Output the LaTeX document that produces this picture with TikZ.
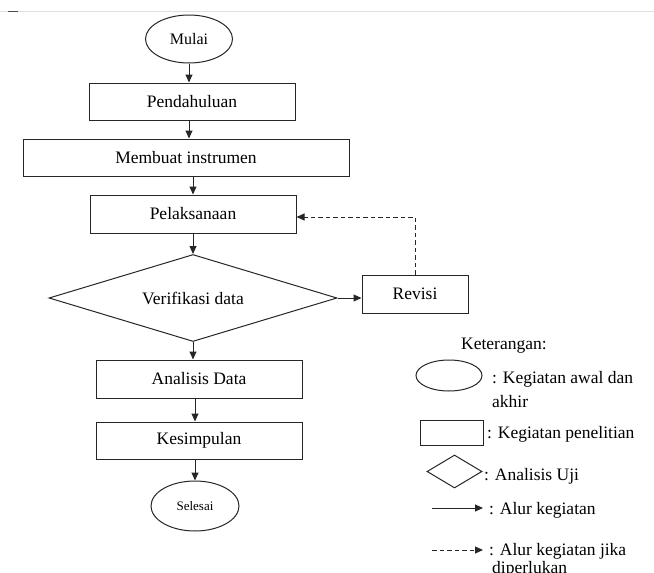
\documentclass[tikz,border=0pt]{standalone}
\usepackage{fontspec}
\setmainfont{Liberation Serif}
\usetikzlibrary{shapes.geometric,arrows.meta}
\begin{document}
\begin{tikzpicture}[x=1pt,y=-1pt,
  line/.style={draw=black!85, line width=1pt},
  flowbox/.style={line, rectangle, inner sep=0pt, font=\fontsize{17.5}{20}\selectfont},
  term/.style={line, ellipse, inner sep=0pt},
  test/.style={line, diamond, inner sep=0pt, shape aspect=3.3, font=\fontsize{17.5}{20}\selectfont},
  arr/.style={line, -{Triangle[length=8pt,width=7pt]}},
  darr/.style={arr, dash pattern=on 4.5pt off 3pt},
  legtext/.style={anchor=base west, inner sep=0pt, font=\fontsize{17.5}{20}\selectfont}]
\useasboundingbox (0,0) rectangle (654,573);
% page edge artefact
\draw[black!12, line width=1pt] (0,11) -- (654,11);
\draw[black!70, line width=1pt] (8,11) -- (18,11);
% flowchart
\node[term, minimum width=87pt, minimum height=48pt, font=\fontsize{16}{19}\selectfont] (mulai) at (189,39) {Mulai};
\node[flowbox, minimum width=206pt, minimum height=37pt] (pend) at (192,101.5) {Pendahuluan};
\node[flowbox, minimum width=326pt, minimum height=37pt] (mem) at (186,157.5) {Membuat instrumen};
\node[flowbox, minimum width=206pt, minimum height=38pt] (pel) at (193,214) {Pelaksanaan};
\node[test, minimum width=288pt, minimum height=87pt] (ver) at (193,298) {Verifikasi data};
\node[flowbox, minimum width=106pt, minimum height=38pt] (rev) at (415,294) {Revisi};
\node[flowbox, minimum width=206pt, minimum height=38pt] (ana) at (199,379) {Analisis Data};
\node[flowbox, minimum width=206pt, minimum height=37pt] (kes) at (199,440.5) {Kesimpulan};
\node[term, minimum width=88pt, minimum height=50pt, font=\fontsize{13}{16}\selectfont] (sel) at (195,506) {Selesai};
\draw[arr] (mulai.south) -- (mulai.south |- pend.north);
\draw[arr] (pend.south -| mulai.south) -- (mem.north -| mulai.south);
\draw[arr] (mem.south -| pel.north) -- (pel.north);
\draw[arr] (pel.south) -- (ver.north);
\draw[arr] (ver.south) -- (ver.south |- ana.north);
\draw[arr] (ana.south -| sel.north) -- (kes.north -| sel.north);
\draw[arr] (kes.south -| sel.north) -- (sel.north);
\draw[arr] (ver.east) -- (ver.east -| rev.west);
\draw[darr] (rev.north) |- ([yshift=-3pt]pel.east);
% legend
\node[legtext] (ket) at (461,349) {Keterangan:};
\node[term, minimum width=66pt, minimum height=31pt] (lell) at (449,375.5) {};
\node[legtext] (l1) at (492,383) {: Kegiatan awal dan};
\node[legtext] (l1b) at (492,407) {akhir};
\node[line, rectangle, inner sep=0pt, minimum width=63pt, minimum height=25pt] (lrect) at (451.5,432.5) {};
\node[legtext] (l2) at (487,438) {: Kegiatan penelitian};
\node[line, diamond, inner sep=0pt, minimum width=55pt, minimum height=33pt] (ldia) at (454.5,471.5) {};
\node[legtext] (l3) at (484,480) {: Analisis Uji};
\coordinate (a1s) at (432,508);
\coordinate (a1e) at (483,508);
\draw[arr] (a1s) -- (a1e);
\node[legtext] (l4) at (489,514) {: Alur kegiatan};
\coordinate (a2s) at (432,550);
\coordinate (a2e) at (483,550);
\draw[darr] (a2s) -- (a2e);
\node[legtext] (l5) at (489,555) {: Alur kegiatan jika};
\node[legtext] (l5b) at (492,573) {diperlukan};
\end{tikzpicture}
\end{document}
